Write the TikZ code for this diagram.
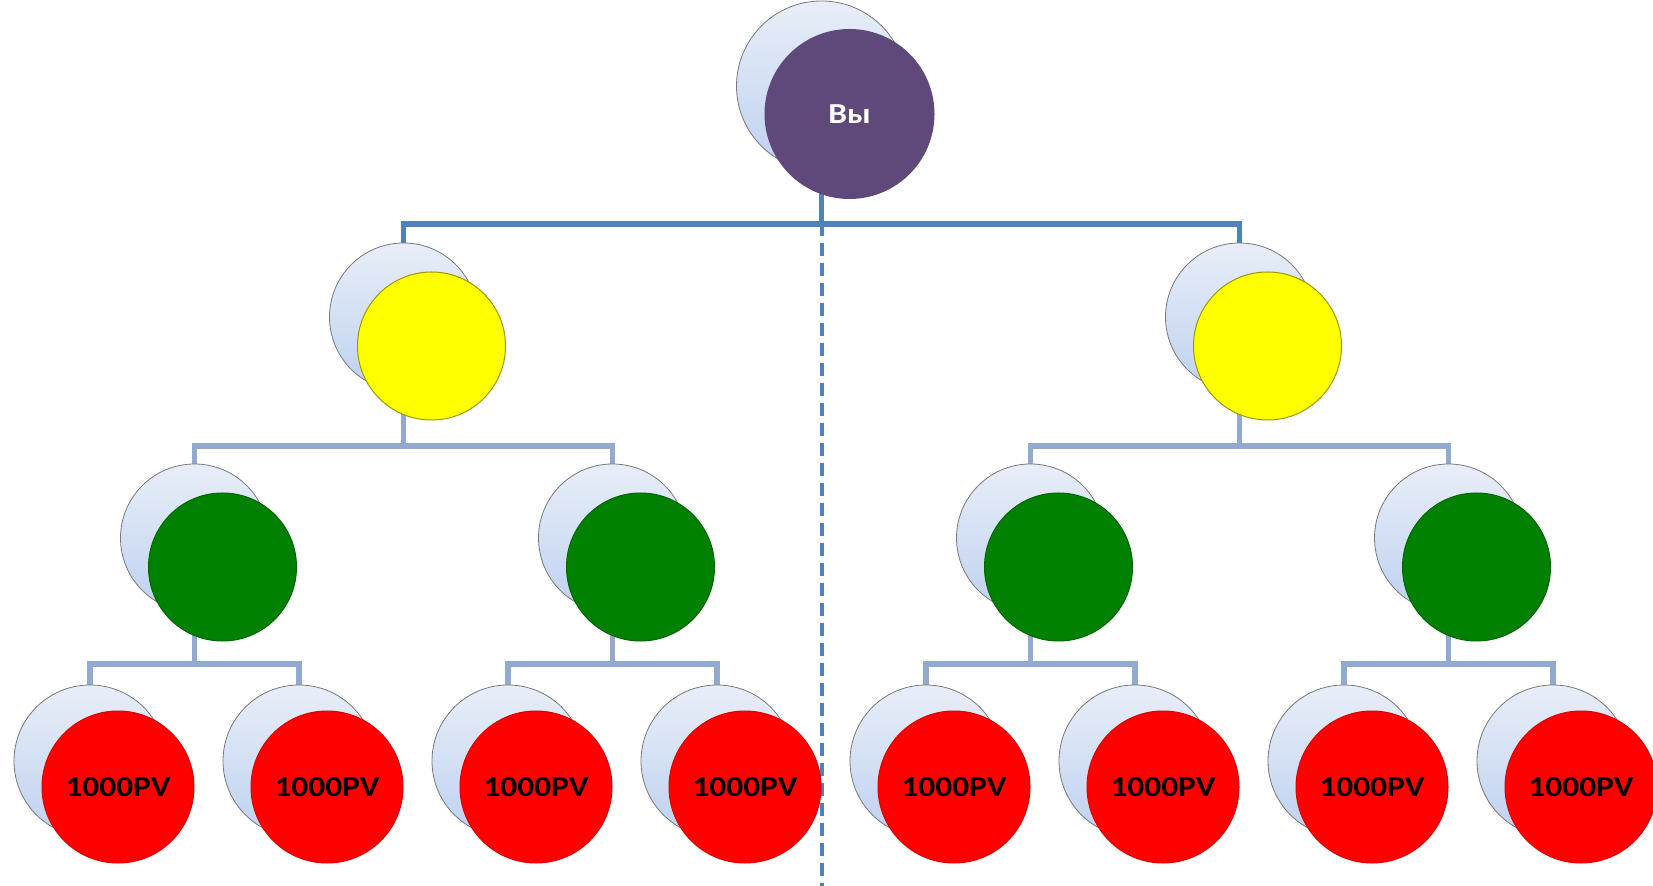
\documentclass[tikz,border=0pt]{standalone}
\usepackage{fontspec}
\setmainfont{Carlito}
\newfontfamily\labelfont[FakeStretch=1.15]{Carlito}
\usepackage{tikz}
\usetikzlibrary{backgrounds}
\definecolor{topwire}{RGB}{79,129,189}
\definecolor{subwire}{RGB}{146,170,207}
\definecolor{youfill}{RGB}{95,73,122}
\definecolor{lvyellow}{RGB}{255,255,0}
\definecolor{lvgreen}{RGB}{0,128,0}
\definecolor{pvred}{RGB}{255,0,0}
\definecolor{discedge}{RGB}{120,120,120}
\tikzstyle{backdisc}=[circle, draw=discedge, line width=0.4pt, inner sep=0pt, shading angle=20, top color={rgb,255:red,232;green,238;blue,248}, bottom color={rgb,255:red,190;green,209;blue,240}]
\tikzstyle{member}=[circle, inner sep=0pt, line width=0.5pt, font=\labelfont\bfseries\fontsize{14.5}{16}\selectfont]
\tikzstyle{pv}=[member, fill=pvred, draw=pvred!85!black, minimum size=76pt]
\newcommand{\backdisc}{\node[backdisc]}
\newcommand{\member}{\node[member]}
\tikzset{elbow/.style={to path={-- ++(0,#1) -| (\tikztotarget)}}}

\begin{document}
\begin{tikzpicture}[x=0.5pt, y=-0.5pt]
        \useasboundingbox (0,0) rectangle (1653,886);
            % top
            \backdisc (you-b) at (821.5,86) [minimum size=85pt]{};
            \member (you) at (849.5,114) [fill=youfill, text=white, minimum size=85pt]{Вы};
            % second row
            \backdisc (y1-b) at (403.5,317) [minimum size=74pt]{};
            \member (y1) at (431.5,346) [fill=lvyellow, draw=lvyellow!60!black, minimum size=74pt]{};
            \backdisc (y2-b) at (1239.5,317) [minimum size=74pt]{};
            \member (y2) at (1267.5,346) [fill=lvyellow, draw=lvyellow!60!black, minimum size=74pt]{};
            % third row
            \backdisc (g1-b) at (194.5,538) [minimum size=74pt]{};
            \member (g1) at (222.5,567) [fill=lvgreen, draw=lvgreen!80!black, minimum size=74pt]{};
            \backdisc (g2-b) at (612.5,538) [minimum size=74pt]{};
            \member (g2) at (640.5,567) [fill=lvgreen, draw=lvgreen!80!black, minimum size=74pt]{};
            \backdisc (g3-b) at (1030.5,538) [minimum size=74pt]{};
            \member (g3) at (1058.5,567) [fill=lvgreen, draw=lvgreen!80!black, minimum size=74pt]{};
            \backdisc (g4-b) at (1448.5,538) [minimum size=74pt]{};
            \member (g4) at (1476.5,567) [fill=lvgreen, draw=lvgreen!80!black, minimum size=74pt]{};
            % bottom row
            \backdisc (r1-b) at (90,761) [minimum size=76pt]{};
            \node[pv] (r1) at (118,787) {1000PV};
            \backdisc (r2-b) at (299,761) [minimum size=76pt]{};
            \node[pv] (r2) at (327,787) {1000PV};
            \backdisc (r3-b) at (508,761) [minimum size=76pt]{};
            \node[pv] (r3) at (536,787) {1000PV};
            \backdisc (r4-b) at (717,761) [minimum size=76pt]{};
            \node[pv] (r4) at (745,787) {1000PV};
            \backdisc (r5-b) at (926,761) [minimum size=76pt]{};
            \node[pv] (r5) at (954,787) {1000PV};
            \backdisc (r6-b) at (1135,761) [minimum size=76pt]{};
            \node[pv] (r6) at (1163,787) {1000PV};
            \backdisc (r7-b) at (1344,761) [minimum size=76pt]{};
            \node[pv] (r7) at (1372,787) {1000PV};
            \backdisc (r8-b) at (1553,761) [minimum size=76pt]{};
            \node[pv] (r8) at (1581,787) {1000PV};
            \coordinate (split) at (821.5,223);
            \coordinate (cut) at (821.5,886);
            \begin{scope}[on background layer]
            \draw[topwire, line width=2pt, dash pattern=on 6.5pt off 3.5pt] (split) -- (cut);
            \path[topwire, line width=2.75pt]
                (you-b.center) edge[elbow=138] (y1-b.center)
                (you-b.center) edge[elbow=138] (y2-b.center)
            ;
            \path[subwire, line width=2.75pt]
                (y1-b.center) edge[elbow=129] (g1-b.center)
                (y1-b.center) edge[elbow=129] (g2-b.center)
                (y2-b.center) edge[elbow=129] (g3-b.center)
                (y2-b.center) edge[elbow=129] (g4-b.center)
                (g1-b.center) edge[elbow=126] (r1-b.center)
                (g1-b.center) edge[elbow=126] (r2-b.center)
                (g2-b.center) edge[elbow=126] (r3-b.center)
                (g2-b.center) edge[elbow=126] (r4-b.center)
                (g3-b.center) edge[elbow=126] (r5-b.center)
                (g3-b.center) edge[elbow=126] (r6-b.center)
                (g4-b.center) edge[elbow=126] (r7-b.center)
                (g4-b.center) edge[elbow=126] (r8-b.center)
            ;
            \end{scope}
        \end{tikzpicture}
\end{document}
